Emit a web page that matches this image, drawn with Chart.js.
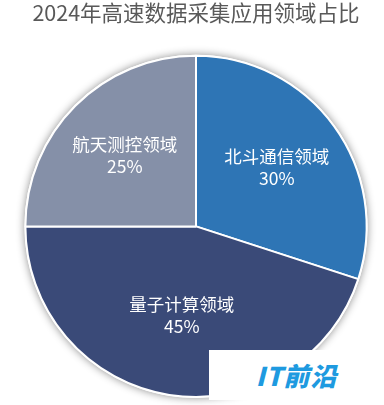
<!DOCTYPE html>
<html>
<head>
<meta charset="utf-8">
<script src="https://cdn.jsdelivr.net/npm/chart.js@4/dist/chart.umd.min.js"></script>
<style>
html,body{margin:0;padding:0;background:#fff;}
#wrap{position:relative;width:384px;height:405px;}
#wm{position:absolute;left:209px;top:350px;width:175px;height:50px;background:#fff;
 font-family:"Noto Sans CJK SC","Noto Sans",sans-serif;font-weight:900;font-style:italic;
 color:#1E9AE0;font-size:26px;line-height:50px;text-align:center;letter-spacing:1px;}
</style>
</head>
<body>
<div id="wrap">
<canvas id="c" width="384" height="405"></canvas>
<div id="wm">IT前沿</div>
</div>
<script>
const titleText = "2024年高速数据采集应用领域占比";
const categories = ["北斗通信领域", "量子计算领域", "航天测控领域"];
const shares = [30, 45, 25];
const sliceColors = ["#2E75B5", "#3A4A78", "#8590A8"];
const labelRadius = [0.585, 0.53, 0.59];

const shadowPlugin = {
  id: 'shadowPlugin',
  beforeDatasetsDraw(chart) {
    const meta = chart.getDatasetMeta(0);
    const arc = meta.data[0];
    if (!arc) return;
    const ctx = chart.ctx;
    ctx.save();
    ctx.shadowColor = 'rgba(0,0,0,0.45)';
    ctx.shadowBlur = 9;
    ctx.fillStyle = '#fff';
    ctx.beginPath();
    ctx.arc(arc.x, arc.y, arc.outerRadius + 1, 0, Math.PI * 2);
    ctx.fill();
    ctx.restore();
  }
};

const labelPlugin = {
  id: 'labelPlugin',
  afterDatasetsDraw(chart) {
    const meta = chart.getDatasetMeta(0);
    const ctx = chart.ctx;
    const data = chart.data.datasets[0].data;
    ctx.save();
    ctx.fillStyle = '#ffffff';
    ctx.textAlign = 'center';
    ctx.textBaseline = 'middle';
    ctx.font = '17.5px "Noto Sans CJK SC", sans-serif';
    meta.data.forEach((arc, i) => {
      const mid = (arc.startAngle + arc.endAngle) / 2;
      const r = arc.outerRadius * labelRadius[i];
      const x = arc.x + Math.cos(mid) * r;
      const y = arc.y + Math.sin(mid) * r;
      ctx.fillText(chart.data.labels[i], x, y - 11);
      ctx.fillText(data[i] + '%', x, y + 11);
    });
    ctx.restore();
  }
};

new Chart(document.getElementById('c'), {
  type: 'pie',
  data: {
    labels: categories,
    datasets: [{
      data: shares,
      backgroundColor: sliceColors,
      borderColor: '#ffffff',
      borderWidth: 2,
      hoverOffset: 0
    }]
  },
  options: {
    responsive: false,
    animation: false,
    layout: { padding: { top: 0, bottom: 7, left: 9, right: 1 } },
    plugins: {
      legend: { display: false },
      tooltip: { enabled: false },
      title: {
        display: true,
        text: titleText,
        color: '#595959',
        font: { size: 21.5, family: '"Noto Sans CJK SC", sans-serif', weight: 'normal' },
        padding: { top: 0, bottom: 29 }
      }
    }
  },
  plugins: [shadowPlugin, labelPlugin]
});
</script>
</body>
</html>
